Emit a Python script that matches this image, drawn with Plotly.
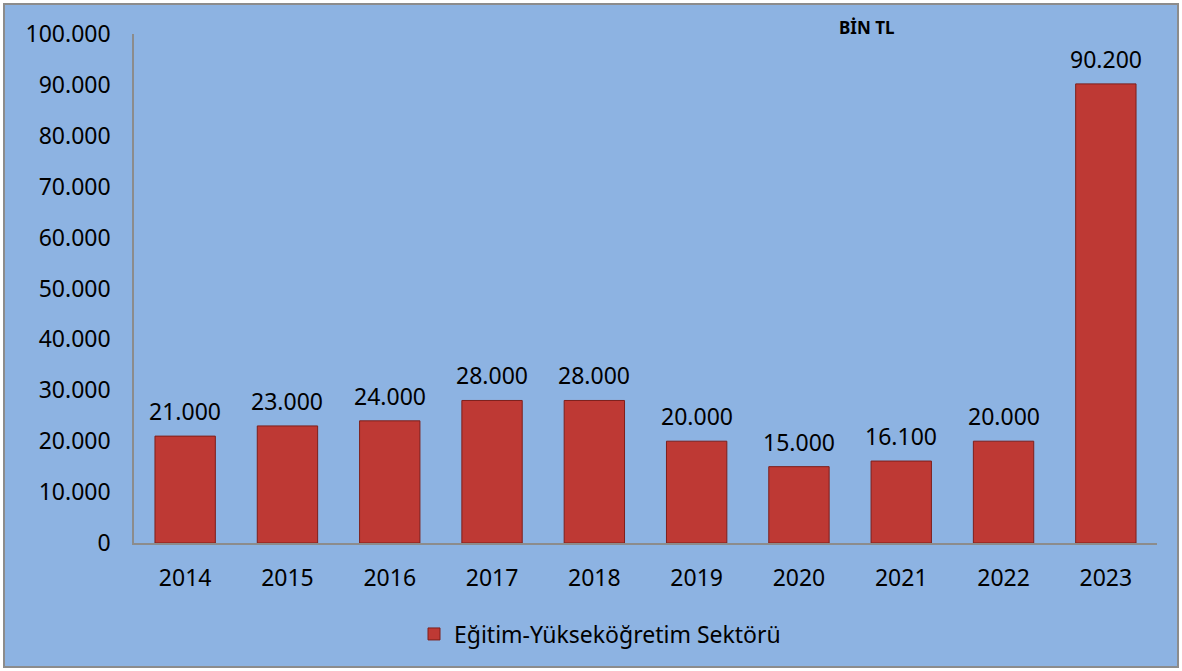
import plotly.graph_objects as go

years = ["2014", "2015", "2016", "2017", "2018", "2019", "2020", "2021", "2022", "2023"]
values = [21000, 23000, 24000, 28000, 28000, 20000, 15000, 16100, 20000, 90200]
series_name = "Eğitim-Yükseköğretim Sektörü"
unit_label = "BİN TL"
y_ticks = [0, 10000, 20000, 30000, 40000, 50000, 60000, 70000, 80000, 90000, 100000]

W, H = 1182, 671
ML, MR, MT, MB = 134, 25, 34, 128
PW, PH = W - ML - MR, H - MT - MB

BG = "#8DB3E2"
BAR = "#BE3934"
BAR_EDGE = "#7E1F1B"
FONT = "Noto Sans"

fig = go.Figure()
fig.add_trace(go.Bar(
    x=years, y=values, name=series_name,
    marker=dict(color=BAR, line=dict(color=BAR_EDGE, width=1)),
    showlegend=True,
))

annotations = []
for i, v in enumerate(values):
    annotations.append(dict(
        x=i, y=v, xref="x", yref="y", text=f"{v:,}".replace(",", "."),
        showarrow=False, yanchor="bottom", yshift=7,
        font=dict(family=FONT, size=23, color="#000000"),
    ))
annotations.append(dict(
    x=(866 - ML) / PW, y=(H - MB - 28) / PH, xref="paper", yref="paper",
    text=f"<b>{unit_label}</b>", showarrow=False, xanchor="center", yanchor="middle",
    font=dict(family=FONT, size=17, color="#000000"),
))

fig.update_layout(
    width=W, height=H,
    margin=dict(l=ML, r=MR, t=MT, b=MB, pad=0, autoexpand=False),
    paper_bgcolor="white",
    plot_bgcolor=BG,
    separators=",.",
    bargap=0.41,
    font=dict(family=FONT, size=23, color="#000000"),
    annotations=annotations,
    shapes=[dict(
        type="rect", xref="paper", yref="paper", layer="below",
        x0=-(ML - 4) / PW, x1=1 + (MR - 4) / PW,
        y0=-(MB - 4) / PH, y1=1 + (MT - 4) / PH,
        fillcolor=BG, line=dict(color="#8C8C8C", width=2),
    )],
    legend=dict(
        orientation="h", x=(600 - ML) / PW, y=(H - MB - 634) / PH,
        xanchor="center", yanchor="middle",
        font=dict(family=FONT, size=23, color="#000000"),
        bgcolor="rgba(0,0,0,0)",
    ),
    xaxis=dict(
        type="category", range=[-0.5, len(years) - 0.5],
        showline=True, linecolor="#8C8C8C", linewidth=1.5,
        showgrid=False, ticks="", ticklabelstandoff=14,
        tickfont=dict(family=FONT, size=23),
    ),
    yaxis=dict(
        range=[0, 100000], tickvals=y_ticks, tickformat=",d",
        showline=True, linecolor="#8C8C8C", linewidth=1.5,
        showgrid=False, zeroline=False, ticks="", ticklabelstandoff=17,
        tickfont=dict(family=FONT, size=23),
    ),
)

fig.write_html("out.html", config={"displayModeBar": False},
               post_script="document.body.style.margin='0';")
